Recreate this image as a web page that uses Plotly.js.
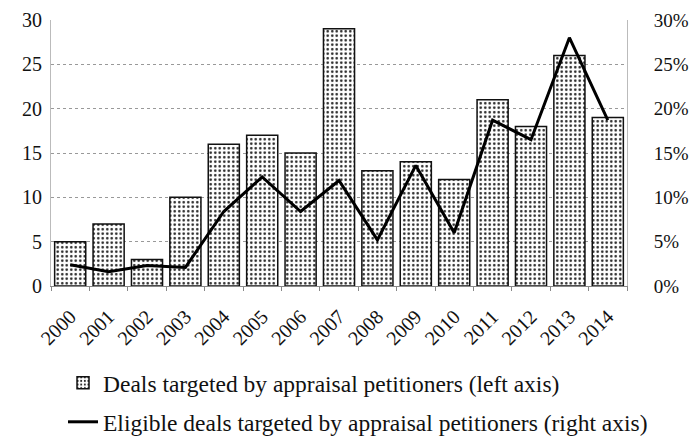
<!DOCTYPE html>
<html><head><meta charset="utf-8">
<script src="https://cdn.plot.ly/plotly-3.0.1.min.js"></script>
<style>html,body{margin:0;padding:0;background:#fff}#c{width:694px;height:442px}</style>
</head><body><div id="c"></div>
<script>
const years = ['2000','2001','2002','2003','2004','2005','2006','2007','2008','2009','2010','2011','2012','2013','2014'];
const deals = [5,7,3,10,16,17,15,29,13,14,12,21,18,26,19];
const eligibleShare = [0.024,0.016,0.023,0.021,0.084,0.123,0.084,0.119,0.052,0.136,0.060,0.187,0.165,0.280,0.187];
const leftTicks = [0,5,10,15,20,25,30];
const rightTicks = [0,0.05,0.10,0.15,0.20,0.25,0.30];
const rightTickText = ['0%','5%','10%','15%','20%','25%','30%'];

const font = {family:'Liberation Serif, Times New Roman, serif', color:'#111'};
const data = [
  {type:'bar', x:years, y:deals, name:'Deals targeted by appraisal petitioners (left axis)',
   marker:{color:'#fff', line:{color:'#111', width:1.5},
     pattern:{shape:'.', fgcolor:'#222', bgcolor:'#fff', size:4.5, solidity:0.25}},
   legend:'legend'},
  {type:'scatter', mode:'lines', x:years, y:eligibleShare, yaxis:'y2',
   name:'Eligible deals targeted by appraisal petitioners (right axis)',
   line:{color:'#000', width:3}, legend:'legend2'}
];
const layout = {
  width:694, height:442, paper_bgcolor:'#fff', plot_bgcolor:'#fff',
  margin:{l:51, r:67, t:20, b:156, autoexpand:false},
  font:font, bargap:0.19, showlegend:true,
  xaxis:{type:'category', tickangle:-45, tickfont:{size:20}, ticks:'outside', ticklen:4, tickcolor:'#888', automargin:false,
    tickson:'boundaries', showline:true, linecolor:'#888', linewidth:1, showgrid:false, ticklabelstandoff:10},
  yaxis:{range:[0,30], tickvals:leftTicks, tickfont:{size:20}, showgrid:true, gridcolor:'#999', automargin:false,
    griddash:'dot', gridwidth:1, showline:true, linecolor:'#bbb', linewidth:1, zeroline:false, ticks:'', ticklabelstandoff:4},
  yaxis2:{overlaying:'y', side:'right', range:[0,0.30], tickvals:rightTicks, ticktext:rightTickText, automargin:false,
    tickfont:{size:19}, showgrid:false, showline:true, linecolor:'#bbb', linewidth:1, zeroline:false, ticklabelstandoff:22},
  legend:{xref:'container', yref:'container', x:0.0908, xanchor:'left', y:0.1335, yanchor:'middle', font:{size:23.5}, bgcolor:'rgba(0,0,0,0)', itemwidth:30},
  legend2:{xref:'container', yref:'container', x:0.0908, xanchor:'left', y:0.0452, yanchor:'middle', font:{size:23.5}, bgcolor:'rgba(0,0,0,0)', itemwidth:30}
};
Plotly.newPlot('c', data, layout, {displayModeBar:false, staticPlot:true});
</script></body></html>
